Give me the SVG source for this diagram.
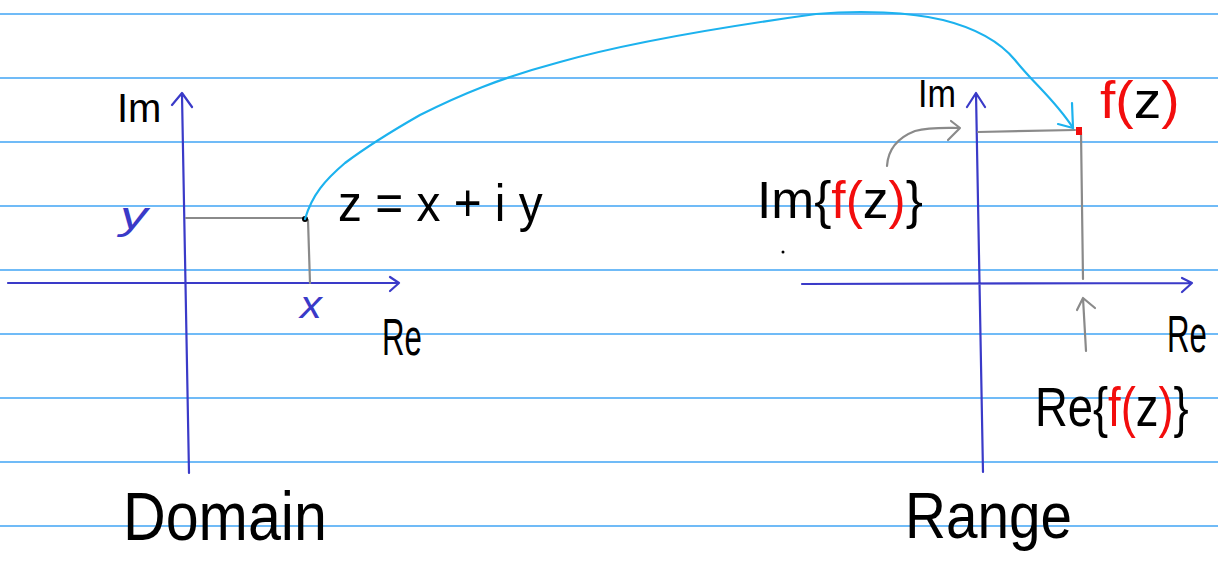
<svg xmlns="http://www.w3.org/2000/svg" width="1218" height="565" viewBox="0 0 1218 565">
<defs>
<style>
.paper{stroke:#42a5f5;stroke-width:1.6;fill:none}
.axis{stroke:#3a3ac8;stroke-width:2.2;fill:none;stroke-linecap:round;stroke-linejoin:round}
.guide{stroke:#8a8a8a;stroke-width:2.2;fill:none;stroke-linecap:round;stroke-linejoin:round}
.map{stroke:#1cb2ee;stroke-width:2.2;fill:none;stroke-linecap:round;stroke-linejoin:round}
.t{font-family:"Liberation Sans","DejaVu Sans",sans-serif;fill:#000}
.b{fill:#3a3ac8}
.r{fill:#f20d0d}
.k{fill:#000}
</style>
</defs>
<rect width="1218" height="565" fill="#fff"/>
<g id="paper">
<path class="paper" d="M0,14H1218M0,78H1218M0,142H1218M0,206H1218M0,270H1218M0,334H1218M0,398H1218M0,462H1218M0,526H1218"/>
</g>
<g id="domain-plane">
<path class="axis" d="M182,95 L189,473 M172,105 L182,93 L192,107 M8,283 L399,283 M390,277 L399,283 L390,291"/>
<path class="guide" d="M186,218 L305,218 M308,220 L310,283"/>
<circle cx="305" cy="219" r="3" fill="#000"/>
<text class="t" x="117" y="122" font-size="40">Im</text>
<text class="t b" transform="translate(120,229) scale(1.45,1)" font-size="38" font-style="italic">y</text>
<text class="t b" transform="translate(300,318) scale(1.15,1)" font-size="38" font-style="italic">x</text>
<text class="t" transform="translate(382,355) scale(0.6,1)" font-size="52">Re</text>
<text class="t" transform="translate(338,221) scale(0.92,1)" font-size="52">z = x + i y</text>
<text class="t" transform="translate(123,540) scale(0.87,1)" font-size="68">Domain</text>
</g>
<g id="range-plane">
<path class="axis" d="M976,93 L983,472 M967,107 L976,93 L985,107 M802,284 L1192,283 M1182,278 L1192,283 L1182,292"/>
<path class="guide" d="M978,132 L1075,130 M1081,132 L1083,279"/>
<rect x="1076" y="127" width="6" height="8" fill="#f20d0d"/>
<circle cx="783" cy="252" r="1.5" fill="#000"/>
<text class="t" transform="translate(918,107) scale(0.9,1)" font-size="38">Im</text>
<text class="t" transform="translate(1167,352) scale(0.6,1)" font-size="52">Re</text>
<text class="t" transform="translate(905,538) scale(0.886,1)" font-size="64">Range</text>
</g>
<g id="label-fz">
<text class="t" transform="translate(1100,118) scale(1.06,1)" font-size="52"><tspan class="r">f(</tspan><tspan class="k">z</tspan><tspan class="r">)</tspan></text>
</g>
<g id="label-im-fz">
<text class="t" transform="translate(757,218) scale(0.99,1)" font-size="52"><tspan class="k">Im{</tspan><tspan class="r">f(</tspan><tspan class="k">z</tspan><tspan class="r">)</tspan><tspan class="k">}</tspan></text>
</g>
<g id="label-re-fz">
<text class="t" transform="translate(1035,426) scale(0.81,1)" font-size="56"><tspan class="k">Re{</tspan><tspan class="r">f(</tspan><tspan class="k">z</tspan><tspan class="r">)</tspan><tspan class="k">}</tspan></text>
</g>
<g id="connectors">
<path class="map" d="M305,219 C312,195 325,180 345,163 C365,148 385,135 420,115 C460,95 500,78 560,62 C620,45 700,30 816,14 C860,10 910,12 943,20 C975,28 1000,42 1015,60 C1035,85 1055,100 1073,128"/>
<path class="map" d="M1072,103 L1073,128 L1058,124"/>
<path class="guide" d="M887,166 C888,150 897,138 915,131 C930,127 945,128 960,128 M951,121 L960,128 L948,140"/>
<path class="guide" d="M1086,351 L1083,298 M1077,310 L1083,298 L1095,308"/>
</g>
</svg>
